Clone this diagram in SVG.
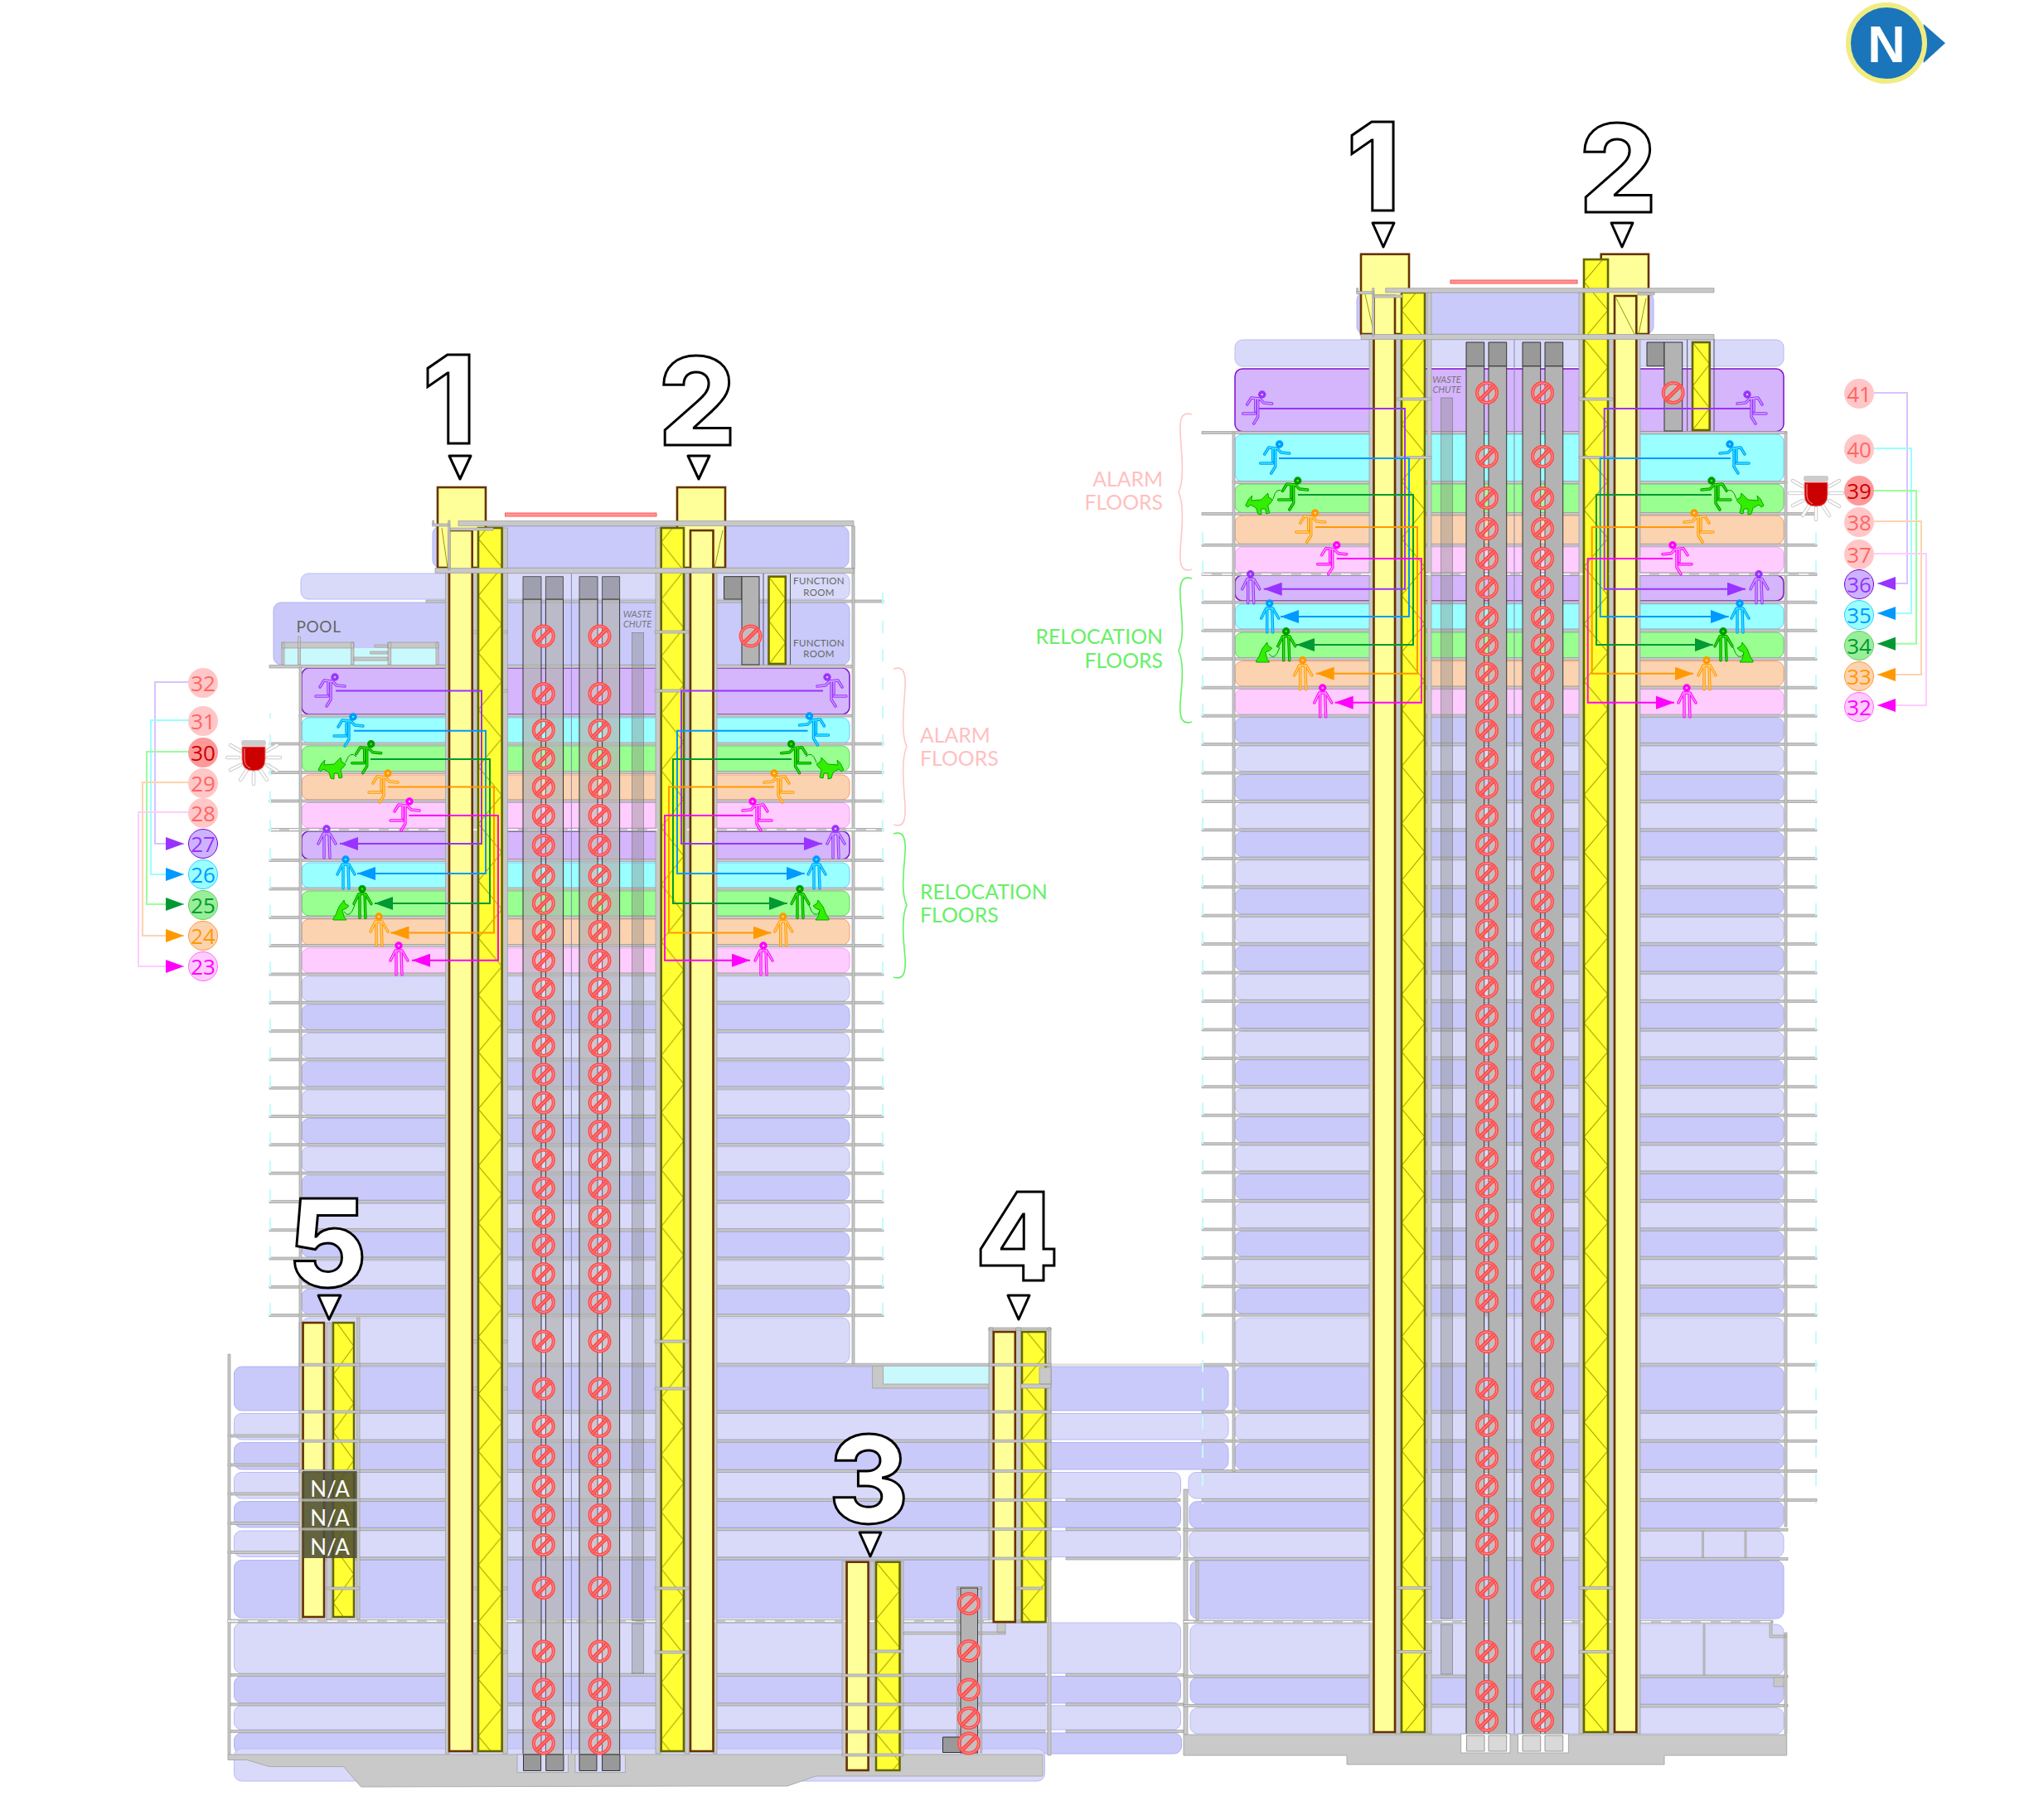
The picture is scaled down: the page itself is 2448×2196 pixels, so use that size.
<svg xmlns="http://www.w3.org/2000/svg" width="2448" height="2196" viewBox="0 0 2448 2196">
<style>
text{font-family:"Lato","Open Sans","Liberation Sans",sans-serif}
.d{fill:#c9caf9;stroke:#aeb0f4;stroke-width:1}
.l{fill:#d9daf9;stroke:#b8baf6;stroke-width:1}
.pu{fill:#d5b5fb;stroke:#7f0fd0;stroke-width:1.5}
.cy{fill:#99ffff;stroke:#66ccff;stroke-width:1}
.gr{fill:#99ff90;stroke:#66cc66;stroke-width:1}
.or{fill:#fcd3b0;stroke:#ff9966;stroke-width:1}
.pk{fill:#ffccff;stroke:#ff99ff;stroke-width:1}
.sl{fill:#c8c8c8;stroke:#999;stroke-width:.7}
.dash{fill:none;stroke:#fff;stroke-width:1.6;stroke-dasharray:12 12}
.pale{fill:#ffff99;stroke:#663300;stroke-width:2.6}
.cap{fill:#999;stroke:#333;stroke-width:1}
.capt{fill:#808088;fill-opacity:.65;stroke:#555;stroke-width:1}
.lift{fill:#b3b3b3;stroke:#333;stroke-width:1}
.liftt{fill:#b3b3b3;fill-opacity:.7;stroke:#333;stroke-width:1}
.chute{fill:#888;fill-opacity:.4;stroke:#777;stroke-width:.6}
.xl{fill:none;stroke:#999900;stroke-width:1}
.thin{fill:none;stroke:#555;stroke-width:1}
.thl{fill:none;stroke:#8888bb;stroke-width:1}
.big{font-family:"Inter","Liberation Sans",sans-serif;font-weight:800;font-size:147px;fill:#fff;stroke:#000;stroke-width:3;text-anchor:middle}
.tri{fill:#fff;stroke:#000;stroke-width:3;stroke-linejoin:round}
.badge{font-size:26px;text-anchor:middle;font-family:"Open Sans","Liberation Sans",sans-serif}
.fr{font-size:11.5px;fill:#666;text-anchor:middle;letter-spacing:.3px}
.wc{font-size:11px;fill:#777;text-anchor:middle;font-style:italic}
.al{font-size:24.8px;fill:#ffbfbf}
.re{font-size:24.8px;fill:#66f066}
.na{font-size:26px;fill:#fff;text-anchor:middle}
.c{fill:none;stroke-width:2}
.br{fill:none;stroke-width:1.6}
.fo{fill:none;stroke:currentColor;stroke-width:3.4;stroke-linecap:round;stroke-linejoin:round}
.fi{fill:none;stroke:var(--in,#fff);stroke-opacity:.85;stroke-width:1.3;stroke-linecap:round;stroke-linejoin:round}
.dog{fill:#33ee00;stroke:#00aa00;stroke-width:1;stroke-linejoin:round}
.ray{fill:none;stroke:#ccc;stroke-width:4.5;stroke-linecap:round}
.ray2{fill:none;stroke:#fff;stroke-width:2.5;stroke-linecap:round}
</style>
<defs>
<marker id="mp" markerUnits="userSpaceOnUse" markerWidth="22" markerHeight="16" refX="22" refY="8" orient="auto"><path d="M0,0L22,8L0,16Z" fill="#9933ff"/></marker>
<marker id="mc" markerUnits="userSpaceOnUse" markerWidth="22" markerHeight="16" refX="22" refY="8" orient="auto"><path d="M0,0L22,8L0,16Z" fill="#0099ff"/></marker>
<marker id="mg" markerUnits="userSpaceOnUse" markerWidth="22" markerHeight="16" refX="22" refY="8" orient="auto"><path d="M0,0L22,8L0,16Z" fill="#009933"/></marker>
<marker id="mo" markerUnits="userSpaceOnUse" markerWidth="22" markerHeight="16" refX="22" refY="8" orient="auto"><path d="M0,0L22,8L0,16Z" fill="#ff9900"/></marker>
<marker id="mm" markerUnits="userSpaceOnUse" markerWidth="22" markerHeight="16" refX="22" refY="8" orient="auto"><path d="M0,0L22,8L0,16Z" fill="#ff00ff"/></marker>
<pattern id="z1" patternUnits="userSpaceOnUse" width="28.6" height="68.8" patternTransform="translate(577,650)"><path d="M0,0L28.6,34.4L0,68.8" fill="none" stroke="#999900" stroke-width="1"/></pattern>
<pattern id="z2" patternUnits="userSpaceOnUse" width="27.3" height="68.8" patternTransform="translate(797.7,620)"><path d="M27.3,0L0,34.4L27.3,68.8" fill="none" stroke="#999900" stroke-width="1"/></pattern>
<pattern id="z3" patternUnits="userSpaceOnUse" width="28" height="68.8" patternTransform="translate(1691,340)"><path d="M28,0L0,34.4L28,68.8" fill="none" stroke="#999900" stroke-width="1"/></pattern>
<pattern id="z4" patternUnits="userSpaceOnUse" width="29" height="68.8" patternTransform="translate(1911,340)"><path d="M0,0L29,34.4L0,68.8" fill="none" stroke="#999900" stroke-width="1"/></pattern>
<pattern id="z5" patternUnits="userSpaceOnUse" width="25" height="68.8" patternTransform="translate(402,1590)"><path d="M0,0L25,34.4L0,68.8" fill="none" stroke="#999900" stroke-width="1"/></pattern>
<pattern id="z6" patternUnits="userSpaceOnUse" width="28.5" height="68.8" patternTransform="translate(1233,1600)"><path d="M0,0L28.5,34.4L0,68.8" fill="none" stroke="#999900" stroke-width="1"/></pattern>
<pattern id="z7" patternUnits="userSpaceOnUse" width="28.5" height="68.8" patternTransform="translate(1057,1885)"><path d="M0,0L28.5,34.4L0,68.8" fill="none" stroke="#999900" stroke-width="1"/></pattern>
<pattern id="z8" patternUnits="userSpaceOnUse" width="20.3" height="53" patternTransform="translate(927.5,696)"><path d="M0,0L20.3,26.5L0,53" fill="none" stroke="#999900" stroke-width="1"/></pattern>
<pattern id="z9" patternUnits="userSpaceOnUse" width="20.7" height="53" patternTransform="translate(2042,413)"><path d="M0,0L20.7,26.5L0,53" fill="none" stroke="#999900" stroke-width="1"/></pattern>
<pattern id="tkL" patternUnits="userSpaceOnUse" width="2" height="34.3" patternTransform="translate(0,1175.5)"><rect x="0" y="19.3" width="2" height="15" fill="#c4fbfb"/></pattern>
<pattern id="tkR" patternUnits="userSpaceOnUse" width="2" height="34.43" patternTransform="translate(0,863.7)"><rect x="0" y="19.43" width="2" height="15" fill="#c4fbfb"/></pattern>
<g id="no"><circle r="12" fill="#ffdddd" fill-opacity=".25" stroke="#ff4d4d" stroke-width="4"/><circle r="12" fill="none" stroke="#ff9999" stroke-width="1"/><path d="M-8.5,8.5L8.5,-8.5" stroke="#ff4d4d" stroke-width="5"/><path d="M-8.5,8.5L8.5,-8.5" stroke="#ff9999" stroke-width="1"/></g>
<g id="colL"><use href="#no" y="767.6"/><use href="#no" y="837"/><use href="#no" y="881"/><use href="#no" y="915"/><use href="#no" y="950"/><use href="#no" y="984"/><use href="#no" y="1020"/><use href="#no" y="1056.6"/><use href="#no" y="1090"/><use href="#no" y="1124"/><use href="#no" y="1159"/><use href="#no" y="1193"/><use href="#no" y="1227.4"/><use href="#no" y="1261.8"/><use href="#no" y="1296.2"/><use href="#no" y="1330.6"/><use href="#no" y="1365"/><use href="#no" y="1399.4"/><use href="#no" y="1433.8"/><use href="#no" y="1468.2"/><use href="#no" y="1502.6"/><use href="#no" y="1537"/><use href="#no" y="1571.4"/><use href="#no" y="1618.6"/><use href="#no" y="1675.7"/><use href="#no" y="1721"/><use href="#no" y="1757"/><use href="#no" y="1793.7"/><use href="#no" y="1828"/><use href="#no" y="1864"/><use href="#no" y="1916"/><use href="#no" y="1992.5"/><use href="#no" y="2038.6"/><use href="#no" y="2073"/><use href="#no" y="2103.5"/></g>
<g id="colR"><use href="#no" y="474"/><use href="#no" y="551"/><use href="#no" y="601"/><use href="#no" y="638"/><use href="#no" y="674"/><use href="#no" y="709"/><use href="#no" y="745"/><use href="#no" y="778"/><use href="#no" y="812.4"/><use href="#no" y="846.9"/><use href="#no" y="881.3"/><use href="#no" y="915.7"/><use href="#no" y="950.2"/><use href="#no" y="984.6"/><use href="#no" y="1019"/><use href="#no" y="1053.4"/><use href="#no" y="1087.9"/><use href="#no" y="1122.3"/><use href="#no" y="1156.7"/><use href="#no" y="1191.2"/><use href="#no" y="1225.6"/><use href="#no" y="1260"/><use href="#no" y="1294.4"/><use href="#no" y="1328.9"/><use href="#no" y="1363.3"/><use href="#no" y="1397.7"/><use href="#no" y="1432.1"/><use href="#no" y="1466.6"/><use href="#no" y="1501"/><use href="#no" y="1535.4"/><use href="#no" y="1569.9"/><use href="#no" y="1619"/><use href="#no" y="1676"/><use href="#no" y="1720"/><use href="#no" y="1759"/><use href="#no" y="1793"/><use href="#no" y="1829"/><use href="#no" y="1863"/><use href="#no" y="1916"/><use href="#no" y="1993"/><use href="#no" y="2041"/><use href="#no" y="2076"/></g>
<g id="run"><circle cx="0" cy="0" r="3" class="fo" style="fill:var(--in,#fff)"/><path class="fo" d="M-18,12L-13,4L-3,5L2,10L12,11M-8,5L-8,20M-23,23L-8,23M-5,5L-5,27L-10,35"/><path class="fi" d="M-18,12L-13,4L-3,5L2,10L12,11M-8,5L-8,20M-23,23L-8,23M-5,5L-5,27L-10,35"/></g>
<g id="walk"><circle cx="0" cy="0" r="3" class="fo" style="fill:var(--in,#fff)"/><path class="fo" d="M-10,18L-4,6L4,6L11,18M-3,6L-3,35M3,6L4,35"/><path class="fi" d="M-10,18L-4,6L4,6L11,18M-3,6L-3,35M3,6L4,35"/></g>
<path id="rdog" class="dog" d="M0,5L5,2L6,-3L10,1L14,5L26,6L25,0L29,4L33,12L30,14L27,11L20,15L18,22L14,23L14,16L9,16L8,22L4,21L6,12L3,9Z"/>
<path id="sdog" class="dog" d="M0,3L5,0L6,-4L9,0L12,4L16,14L19,18L19,20L3,20L6,16L8,8L3,6Z"/>
<g id="alarm"><path class="ray" d="M-28,-13L-16,-6M-32,2L-18,2M-28,17L-16,11M-16,29L-8,17M0,20L0,34M8,17L16,29M16,11L28,18M17,2L32,2M16,-6L28,-13"/><path class="ray2" d="M-28,-13L-16,-6M-32,2L-18,2M-28,17L-16,11M-16,29L-8,17M0,20L0,34M8,17L16,29M16,11L28,18M17,2L32,2M16,-6L28,-13"/><rect x="-15" y="-19" width="30" height="7" rx="3" fill="#ccc"/><path d="M-14,-11H14V4Q14,18 0,18Q-14,18 -14,4Z" fill="#cc0000" stroke="#e88" stroke-width="1"/><path d="M-11,-9V4Q-11,12 -4,15" fill="none" stroke="#ff9999" stroke-width="1"/></g>
</defs>

<g id="left-tower-floors">
<rect class="d" x="522" y="635" width="502" height="50" rx="9"/>
<rect class="l" x="363" y="692" width="662" height="31" rx="9"/>
<rect class="d" x="330" y="727" width="695" height="75" rx="9"/>
<rect class="pu" x="364" y="806" width="661" height="56" rx="9"/>
<rect class="cy" x="364" y="866" width="661" height="31" rx="9"/>
<rect class="gr" x="364" y="900" width="661" height="31" rx="9"/>
<rect class="or" x="364" y="935" width="661" height="30" rx="9"/>
<rect class="pk" x="364" y="968.5" width="661" height="30.5" rx="9"/>
<rect class="pu" x="364" y="1003" width="661" height="34" rx="9"/>
<rect class="cy" x="364" y="1041" width="661" height="30.5" rx="9"/>
<rect class="gr" x="364" y="1075" width="661" height="30" rx="9"/>
<rect class="or" x="364" y="1109" width="661" height="31" rx="9"/>
<rect class="pk" x="364" y="1144" width="661" height="30" rx="9"/>
<rect class="l" x="364" y="1178" width="661" height="30" rx="9"/>
<rect class="d" x="364" y="1212.3" width="661" height="30" rx="9"/>
<rect class="l" x="364" y="1246.6" width="661" height="30" rx="9"/>
<rect class="d" x="364" y="1280.9" width="661" height="30" rx="9"/>
<rect class="l" x="364" y="1315.2" width="661" height="30" rx="9"/>
<rect class="d" x="364" y="1349.5" width="661" height="30" rx="9"/>
<rect class="l" x="364" y="1383.8" width="661" height="30" rx="9"/>
<rect class="d" x="364" y="1418.1" width="661" height="30" rx="9"/>
<rect class="l" x="364" y="1452.4" width="661" height="30" rx="9"/>
<rect class="d" x="364" y="1486.7" width="661" height="30" rx="9"/>
<rect class="l" x="364" y="1521" width="661" height="30" rx="9"/>
<rect class="d" x="364" y="1555.3" width="661" height="30.5" rx="9"/>
<rect class="l" x="364" y="1590" width="661" height="55" rx="9"/>
<rect class="d" x="282.5" y="1649" width="1199.5" height="53" rx="9"/>
<rect class="l" x="282.5" y="1705.5" width="1199.5" height="31.5" rx="9"/>
<rect class="d" x="282.5" y="1740.6" width="1199.5" height="32.4" rx="9"/>
<rect class="l" x="282.5" y="1776.5" width="1142" height="31.5" rx="9"/>
<rect class="d" x="282.5" y="1811.6" width="1142" height="31.4" rx="9"/>
<rect class="l" x="282.5" y="1847" width="1142" height="31.5" rx="9"/>
<rect class="d" x="282.5" y="1882.6" width="985" height="69.4" rx="9"/>
<rect class="l" x="282.5" y="1958" width="1142" height="61" rx="9"/>
<rect class="d" x="282.5" y="2022.6" width="1142" height="32.4" rx="9"/>
<rect class="l" x="282.5" y="2058" width="1142" height="29" rx="9"/>
<rect class="d" x="282.5" y="2091" width="1143" height="25" rx="9"/>
<rect class="l" x="282.5" y="2110" width="978" height="39" rx="9"/>
</g>

<g id="right-tower-floors">
<rect class="d" x="1637" y="353" width="358" height="50" rx="9"/>
<rect class="l" x="1490" y="410" width="662" height="32" rx="9"/>
<rect class="pu" x="1490" y="445" width="662" height="75.7" rx="9"/>
<rect class="cy" x="1490" y="524" width="662" height="57" rx="9"/>
<rect class="gr" x="1490" y="584" width="662" height="34.7" rx="9"/>
<rect class="or" x="1490" y="622" width="662" height="34.7" rx="9"/>
<rect class="pk" x="1490" y="660" width="662" height="31" rx="9"/>
<rect class="pu" x="1490" y="694" width="662" height="31" rx="9"/>
<rect class="cy" x="1490" y="728.7" width="662" height="30.3" rx="9"/>
<rect class="gr" x="1490" y="763" width="662" height="31" rx="9"/>
<rect class="or" x="1490" y="797.7" width="662" height="30.3" rx="9"/>
<rect class="pk" x="1490" y="831.7" width="662" height="30.6" rx="9"/>
<rect class="d" x="1490" y="865.7" width="662" height="30.5" rx="9"/>
<rect class="l" x="1490" y="900.1" width="662" height="30.5" rx="9"/>
<rect class="d" x="1490" y="934.6" width="662" height="30.5" rx="9"/>
<rect class="l" x="1490" y="969" width="662" height="30.5" rx="9"/>
<rect class="d" x="1490" y="1003.4" width="662" height="30.5" rx="9"/>
<rect class="l" x="1490" y="1037.9" width="662" height="30.5" rx="9"/>
<rect class="d" x="1490" y="1072.3" width="662" height="30.5" rx="9"/>
<rect class="l" x="1490" y="1106.7" width="662" height="30.5" rx="9"/>
<rect class="d" x="1490" y="1141.1" width="662" height="30.5" rx="9"/>
<rect class="l" x="1490" y="1175.6" width="662" height="30.5" rx="9"/>
<rect class="d" x="1490" y="1210" width="662" height="30.5" rx="9"/>
<rect class="l" x="1490" y="1244.4" width="662" height="30.5" rx="9"/>
<rect class="d" x="1490" y="1278.9" width="662" height="30.5" rx="9"/>
<rect class="l" x="1490" y="1313.3" width="662" height="30.5" rx="9"/>
<rect class="d" x="1490" y="1347.7" width="662" height="30.5" rx="9"/>
<rect class="l" x="1490" y="1382.2" width="662" height="30.5" rx="9"/>
<rect class="d" x="1490" y="1416.6" width="662" height="30.5" rx="9"/>
<rect class="l" x="1490" y="1451" width="662" height="30.5" rx="9"/>
<rect class="d" x="1490" y="1485.4" width="662" height="30.5" rx="9"/>
<rect class="l" x="1490" y="1519.9" width="662" height="30.5" rx="9"/>
<rect class="d" x="1490" y="1554.3" width="662" height="30.5" rx="9"/>
<rect class="l" x="1490" y="1590" width="662" height="55" rx="9"/>
<rect class="d" x="1490" y="1649" width="662" height="53" rx="9"/>
<rect class="l" x="1490" y="1705.5" width="662" height="31.5" rx="9"/>
<rect class="d" x="1490" y="1740.6" width="662" height="32.4" rx="9"/>
<rect class="l" x="1434" y="1776.5" width="718" height="31.5" rx="9"/>
<rect class="d" x="1435" y="1811.7" width="717" height="32" rx="9"/>
<rect class="l" x="1435" y="1847" width="717" height="32" rx="9"/>
<rect class="d" x="1436" y="1883" width="716" height="70" rx="9"/>
<rect class="l" x="1436" y="1960" width="716" height="61" rx="9"/>
<rect class="d" x="1436" y="2024" width="716" height="32" rx="9"/>
<rect class="l" x="1436" y="2060.7" width="716" height="31.3" rx="9"/>
</g>

<g id="pool">
<rect x="342.7" y="782" width="184" height="20" fill="#c9f9fd"/>
<rect x="1065.6" y="1647" width="130" height="23" fill="#c9f9fd"/>
<path class="sl" d="M340,775H426.700V782H340ZM468,775H529V782H468ZM446.700,786H468V789H446.700ZM452,778H468V781H452ZM426.700,793H468V797H426.700ZM340,775H343V802H340ZM423.500,775H427V802H423.500ZM468,775H471.700V802H468ZM526,775H529V802H526ZM359.500,768H362.500V802H359.500Z"/>
<path class="sl" d="M1052.600,1647H1065.600V1670H1268V1675H1052.600ZM1254,1650H1268V1670H1254Z"/>
<text x="384.500" y="762.700" font-size="19" fill="#666" text-anchor="middle" letter-spacing=".6">POOL</text>
</g>

<g id="slabs-left">
<path class="sl" d="M514,724h552v3h-552ZM325,802.500h705v3.500h-705ZM361,862h669v3h-669ZM325,896h741v3h-741ZM325,930.500h741v3h-741ZM325,965h741v3h-741ZM325,999.500h741v3.500h-741ZM325,1036.500h741v3h-741ZM325,1071h741v3h-741ZM325,1105.500h741v3h-741ZM325,1139.500h741v3h-741ZM325,1174h741v3h-741ZM325,1208.300h741v3h-741ZM325,1242.600h741v3h-741ZM325,1276.900h741v3h-741ZM325,1311.200h741v3h-741ZM325,1345.500h741v3h-741ZM325,1379.800h741v3h-741ZM325,1414.100h741v3h-741ZM325,1448.400h741v3h-741ZM325,1482.700h741v3h-741ZM325,1517h741v3h-741ZM325,1551.300h741v3h-741ZM325,1585.600h741v3h-741ZM361,1645.200h907v3h-907ZM361,1702h907v3h-907ZM361,1737.200h907v3h-907ZM361,1773.500h907v3h-907ZM361,1808.500h907v3h-907ZM361,1843.500h907v3h-907ZM361,1879h907v3h-907ZM275,1731h88v3h-88ZM275,1766h88v3h-88ZM275,1801h88v3h-88ZM275,1836.500h88v3h-88ZM275,1871.500h88v3h-88ZM275,1954h985v4h-985ZM276,2019.500h985v3h-985ZM276,2055h985v3h-985ZM276,2087.500h985v3h-985ZM1286,1808.500h138v3h-138ZM1286,1843.500h138v3h-138ZM1286,1879h138v3h-138ZM1286,2019.500h142v3h-142ZM1286,2055h142v3h-142ZM1286,2087.500h142v3h-142Z"/>
<rect x="1268" y="1645.200" width="222" height="3" fill="#e2e2e2"/>
<path class="sl" d="M361,805h3v841h-3ZM1028,635h3v1011h-3ZM275,1634h3v483h-3ZM537.500,640h4.500v1476h-4.500ZM570.700,637h5.500v1479h-5.500ZM606.700,637h5.700v1479h-5.700ZM791,637h6v1479h-6ZM826,637h6v1479h-6ZM860.500,637h4.500v1479h-4.500ZM361,1596h4v358h-4ZM394,1596h6v358h-6ZM430.600,1590h3.400v364h-3.400ZM1193,1602h5v355h-5ZM1225.500,1602h6.500v355h-6.500ZM1264,1602h4v516h-4ZM1193,1602h75v3h-75ZM1016,1884h5v254h-5ZM1050,1884h5v254h-5ZM1087,1884h3v254h-3ZM1016,2135h74v3h-74ZM1154.600,1916h2v180h-2ZM1182.600,1916h2v199h-2ZM1154.600,1914.500h30v3h-30ZM1428,1797h5v296h-5ZM1203,1955h53v3h-53ZM1203,1958h10v12h-10ZM1090,1969h123v3h-123ZM1443,1883h3v72h-3Z"/>
<path class="dash" d="M275,1956H1260"/>
<path class="dash" d="M325,1001H1066"/>
<path class="sl" d="M570,761h42v3h-42ZM570,832h42v3h-42ZM570,1617h42v3h-42ZM570,1674h42v3h-42ZM570,1915h42v3h-42ZM570,1992h42v3h-42Z"/>
<rect x="325" y="860" width="2" height="727" fill="url(#tkL)"/>
<rect x="1064" y="700" width="2" height="887" fill="url(#tkL)"/>
</g>

<g id="slabs-right">
<path class="sl" d="M1450,520.500h706v3h-706ZM1487,580.500h669v3h-669ZM1450,618.500h742v3h-742ZM1450,656.200h742v3h-742ZM1450,691h742v3.500h-742ZM1450,725.200h742v3h-742ZM1450,759.200h742v3h-742ZM1450,793.500h742v3h-742ZM1450,828.200h742v3h-742ZM1450,862.200h742v3h-742ZM1450,896.600h742v3h-742ZM1450,931.100h742v3h-742ZM1450,965.500h742v3h-742ZM1450,999.900h742v3h-742ZM1450,1034.400h742v3h-742ZM1450,1068.800h742v3h-742ZM1450,1103.200h742v3h-742ZM1450,1137.600h742v3h-742ZM1450,1172.100h742v3h-742ZM1450,1206.500h742v3h-742ZM1450,1240.900h742v3h-742ZM1450,1275.400h742v3h-742ZM1450,1309.800h742v3h-742ZM1450,1344.200h742v3h-742ZM1450,1378.700h742v3h-742ZM1450,1413.100h742v3h-742ZM1450,1447.500h742v3h-742ZM1450,1481.900h742v3h-742ZM1450,1516.400h742v3h-742ZM1450,1550.800h742v3h-742ZM1450,1585.200h742v3h-742ZM1450,1645.200h742v3h-742ZM1450,1702h742v3h-742ZM1450,1737.200h742v3h-742ZM1450,1773.500h742v3h-742ZM1450,1808.500h742v3h-742ZM1428,1844.200h729v3h-729ZM1428,1879.500h729v3h-729ZM1428,1955h711v3.500h-711ZM1428,2021.200h729v3h-729ZM1428,2056.500h729v3h-729Z"/>
<path class="sl" d="M1487,522h3v1254h-3ZM2153,522h3v1320h-3ZM2153,1970h3v122h-3ZM2135,1957h3v16h17v3h-20ZM2140,2024h12v11h-12ZM1652,407h5v1685h-5ZM1684,353h6v1739h-6ZM1722,353h5v1739h-5ZM1905,353h5v1739h-5ZM1940,353h7v1739h-7ZM1975,353h4v1739h-4ZM2053.500,1847h2v32h-2ZM2105,1847h2v32h-2ZM2055,1960h2v61h-2Z"/>
<path class="thin" d="M2035.700,409V520M2068,409V520"/>
<path class="dash" d="M1428,1956.700H2139"/>
<path class="dash" d="M1450,692.700H2192"/>
<rect x="1450" y="625" width="2" height="1190" fill="url(#tkR)"/>
<rect x="2190" y="625" width="2" height="1190" fill="url(#tkR)"/>
</g>

<g id="core-left">
<path class="thl" d="M689.400,692V2116"/>
<rect class="chute" x="762.500" y="763.400" width="14.200" height="1192"/>
<rect class="chute" x="762.500" y="1959" width="14.200" height="60"/>
<rect class="liftt" x="631" y="723" width="22" height="1394"/>
<rect class="liftt" x="658.400" y="723" width="21.100" height="1394"/>
<rect class="liftt" x="699" y="723" width="22" height="1394"/>
<rect class="liftt" x="726.600" y="723" width="21" height="1394"/>
<path class="capt" d="M631,695.700h22V723h-22ZM658.400,695.700h21.100V723h-21.100ZM699,695.700h22V723h-22ZM726.600,695.700h21V723h-21Z"/>
<path class="cap" d="M873.500,695.700H895V723H873.500Z"/>
<rect class="lift" x="895" y="695.700" width="21" height="106.300"/>
<path class="thin" d="M921,692V802M953.500,692V802"/>
<text class="wc" x="769" y="745">WASTE</text><text class="wc" x="769" y="757">CHUTE</text>
<text class="fr" x="988" y="705">FUNCTION</text><text class="fr" x="988" y="718.500">ROOM</text>
<text class="fr" x="988" y="780">FUNCTION</text><text class="fr" x="988" y="793">ROOM</text>
</g>

<g id="core-right">
<path class="thl" d="M1827,409V2092"/>
<rect class="chute" x="1738.500" y="480" width="14.200" height="1473"/>
<rect class="chute" x="1738.500" y="1960" width="14.200" height="60"/>
<path class="lift" d="M1769,441.700h21.700V2094h-21.700ZM1796,441.700h21.700V2094h-21.700ZM1837,441.700h21.700V2094h-21.700ZM1864,441.700h21.700V2094h-21.700Z"/>
<path class="cap" d="M1769,413h21.700v28.700h-21.700ZM1796,413h21.700v28.700h-21.700ZM1837,413h21.700v28.700h-21.700ZM1864,413h21.700v28.700h-21.700ZM1987,413h21v28.700h-21Z"/>
<rect class="lift" x="2008" y="413" width="21.700" height="107"/>
<text class="wc" x="1745.500" y="462">WASTE</text><text class="wc" x="1745.500" y="474">CHUTE</text>
</g>

<g id="bases">
<path d="M275,2117H1258V2143H984.400L950,2155H850L435.600,2156L414.500,2131.600H325L298,2123.500H275Z" fill="#c9c9c9" stroke="#aaa"/>
<path d="M1428,2093H2155.700V2118H2008V2129H1625V2118H1428Z" fill="#c9c9c9" stroke="#aaa"/>
<rect x="1762.600" y="2092" width="59.400" height="23" fill="#fff" stroke="#aaa"/>
<rect x="1831.500" y="2092" width="60.900" height="23" fill="#fff" stroke="#aaa"/>
<path d="M1769.500,2094h21.500v19h-21.500ZM1796,2094h21.700v19h-21.700ZM1837,2094h21.700v19h-21.700ZM1864,2094h21.700v19h-21.700Z" fill="#d9d9d9" stroke="#999"/>
<rect x="624" y="2117" width="61.500" height="21.600" fill="#d9daf9" stroke="#aaa"/>
<rect x="694" y="2117" width="60.400" height="21.600" fill="#d9daf9" stroke="#aaa"/>
<path class="cap" d="M631.500,2117h21.100v19.500h-21.100ZM658.700,2117h21.300v19.500h-21.300ZM699,2117h21v19.500h-21ZM726.600,2117h21.400v19.500h-21.400Z"/>
<path class="cap" d="M1137.500,2096H1159V2114.500H1137.500Z"/>
<rect class="lift" x="1159" y="1916" width="20.600" height="199"/>
</g>

<g id="shaft-1-left">
<rect class="pale" x="528" y="588" width="58" height="97"/>
<path class="xl" d="M533,637L540,685M545,685L568,643"/>
<rect class="pale" x="542" y="640" width="27.700" height="1473"/>
<rect x="577" y="637" width="28.600" height="1476" fill="#ffff33"/><rect x="577" y="637" width="28.600" height="1476" fill="url(#z1)" stroke="#666600" stroke-width="2.600"/>
</g>
<g id="shaft-2-left">
<rect class="pale" x="817" y="588" width="58" height="97"/>
<path class="xl" d="M836,643L858,685M862,685L872,640"/>
<rect x="797.700" y="637" width="27.300" height="1476" fill="#ffff33"/><rect x="797.700" y="637" width="27.300" height="1476" fill="url(#z2)" stroke="#666600" stroke-width="2.600"/>
<rect class="pale" x="833" y="640" width="27.500" height="1473"/>
<rect x="927.500" y="695.700" width="20.300" height="105.300" fill="#ffff33"/><rect x="927.500" y="695.700" width="20.300" height="105.300" fill="url(#z8)" stroke="#666600" stroke-width="2.600"/>
<path class="sl" d="M790,761h41v3h-41ZM790,832h41v3h-41ZM790,1617h41v3h-41ZM790,1674h41v3h-41ZM790,1915h41v3h-41ZM790,1992h41v3h-41Z"/>
</g>
<g id="shaft-1-right">
<rect class="pale" x="1642" y="306.700" width="58" height="96.300"/>
<path class="xl" d="M1647,355L1658,403M1662,403L1682,360"/>
<rect class="pale" x="1657.500" y="357" width="25.500" height="1733"/>
<rect x="1691" y="353" width="28" height="1737" fill="#ffff33"/><rect x="1691" y="353" width="28" height="1737" fill="url(#z3)" stroke="#666600" stroke-width="2.600"/>
<path class="sl" d="M1685.700,480h41.300v3h-41.300ZM1685.700,550.500h41.300v3h-41.300ZM1685.700,1914.500h41.300v3h-41.300ZM1685.700,1991.500h41.300v3h-41.300Z"/>
</g>
<g id="shaft-2-right">
<rect class="pale" x="1931.700" y="306.700" width="57.300" height="96.300"/>
<rect x="1911" y="313" width="29" height="1777" fill="#ffff33"/><rect x="1911" y="313" width="29" height="1777" fill="url(#z4)" stroke="#666600" stroke-width="2.600"/>
<rect class="pale" x="1948" y="357" width="26.300" height="1733"/>
<path class="xl" d="M1950,360L1972,403M1977,403L1986,360"/>
<rect x="2042" y="413" width="20.700" height="106" fill="#ffff33"/><rect x="2042" y="413" width="20.700" height="106" fill="url(#z9)" stroke="#666600" stroke-width="2.600"/>
<path class="sl" d="M1905,480h41v3h-41ZM1905,550.500h41v3h-41ZM1905,1914.500h41v3h-41ZM1905,1991.500h41v3h-41Z"/>
</g>
<g id="roofs">
<path class="sl" d="M553,628.500h477v6h-477ZM525,685.500h505v6h-505ZM521.700,632h21v3h-21ZM521.700,628h2v4h-2ZM540.700,628h2.300v60h-2.300ZM543,637h52v3h-52ZM1028,635h3v51h-3Z"/>
<path class="sl" d="M1671.700,347.700h396.300v5.300h-396.300ZM1642,403.500h426v6h-426ZM1636.700,351.700h21v3h-21ZM1636.700,347.700h2v4h-2ZM1655.700,347.700h2.300v58h-2.300ZM1657,356h35v3h-35ZM1976,353h20v3h-20Z"/>
</g>
<g id="shaft-5">
<rect class="pale" x="365.600" y="1596" width="25.400" height="355" stroke-width="2"/>
<rect x="402" y="1596" width="25" height="355" fill="#ffff33"/><rect x="402" y="1596" width="25" height="355" fill="url(#z5)" stroke="#666600" stroke-width="2.500"/>
<path class="sl" d="M394,1915h40v3h-40ZM361,1645.200h73v3h-73ZM361,1702h73v3h-73ZM361,1737.200h73v3h-73ZM361,1773.500h73v3h-73Z"/>
<rect x="365" y="1775" width="65.600" height="105" fill="#4d4d33" fill-opacity=".88"/>
<rect x="361" y="1808.500" width="73" height="3" class="sl" opacity=".7"/><rect x="361" y="1843.500" width="73" height="3" class="sl" opacity=".7"/>
<text class="na" x="398" y="1806">N/A</text><text class="na" x="398" y="1841">N/A</text><text class="na" x="398" y="1876">N/A</text>
</g>
<g id="shaft-4">
<rect class="pale" x="1198.800" y="1607" width="26" height="350" stroke-width="2"/>
<rect x="1233" y="1607" width="28.500" height="350" fill="#ffff33"/><rect x="1233" y="1607" width="28.500" height="350" fill="url(#z6)" stroke="#666600" stroke-width="2.500"/>
<path class="sl" d="M1193,1645.200h75v3h-75ZM1254,1650h14v20h-14ZM1232,1670h36v5h-36ZM1227,1915h31v3h-31ZM1193,1702h75v3h-75ZM1193,1737.200h75v3h-75ZM1193,1773.500h75v3h-75ZM1193,1808.500h75v3h-75ZM1193,1843.500h75v3h-75ZM1193,1879h75v3h-75Z"/>
</g>
<g id="shaft-3">
<rect class="pale" x="1021.600" y="1884.700" width="26" height="251.300" stroke-width="2"/>
<rect x="1057" y="1884.700" width="28.500" height="251.300" fill="#ffff33"/><rect x="1057" y="1884.700" width="28.500" height="251.300" fill="url(#z7)" stroke="#666600" stroke-width="2.500"/>
<path class="sl" d="M1050,1991h40v3h-40ZM1016,2020h74v3h-74ZM1016,2055h74v3h-74ZM1016,2088h74v3h-74ZM1016,2116h74v3h-74Z"/>
</g>

<g id="no-entry">
<use href="#colL" x="655.800"/><use href="#colL" x="723.500"/>
<use href="#no" x="905.600" y="767.600"/>
<use href="#colR" x="1794"/><use href="#colR" x="1861"/>
<use href="#no" x="2018.700" y="474"/>
<use href="#no" x="1169" y="1935"/><use href="#no" x="1169" y="1992"/><use href="#no" x="1169" y="2038.600"/><use href="#no" x="1169" y="2073"/><use href="#no" x="1169" y="2103.500"/>
</g>

<g id="connectors">
<path class="c" stroke="#9933ff" marker-end="url(#mp)" d="M993,833.500H822V1018H992"/>
<path class="c" stroke="#0099ff" marker-end="url(#mc)" d="M974.500,881.700H817V1054H970.700"/>
<path class="c" stroke="#009933" marker-end="url(#mg)" d="M955,916H812V1090H949.700"/>
<path class="c" stroke="#ff9900" marker-end="url(#mo)" d="M934,949.400H807V1125.500H930.500"/>
<path class="c" stroke="#ff00ff" marker-end="url(#mm)" d="M908.700,984H802V1158.700H905"/>
<path class="c" stroke="#9933ff" marker-end="url(#mp)" d="M405,833.500H581V1018H410"/>
<path class="c" stroke="#0099ff" marker-end="url(#mc)" d="M427,881.700H586V1054H431"/>
<path class="c" stroke="#009933" marker-end="url(#mg)" d="M447,916H591V1090H452"/>
<path class="c" stroke="#ff9900" marker-end="url(#mo)" d="M468,949.400H596V1125.500H471.500"/>
<path class="c" stroke="#ff00ff" marker-end="url(#mm)" d="M493.300,984H601V1158.700H497"/>
<path class="c" stroke="#9933ff" marker-end="url(#mp)" d="M2113,493H1935.700V710.700H2106"/>
<path class="c" stroke="#0099ff" marker-end="url(#mc)" d="M2088,553H1930.700V744H2085.700"/>
<path class="c" stroke="#009933" marker-end="url(#mg)" d="M2065,597H1926V778H2066.700"/>
<path class="c" stroke="#ff9900" marker-end="url(#mo)" d="M2044,636H1920.700V812.700H2043"/>
<path class="c" stroke="#ff00ff" marker-end="url(#mm)" d="M2018,674H1915.700V847.700H2020"/>
<path class="c" stroke="#9933ff" marker-end="url(#mp)" d="M1518,493H1695V710.700H1524.700"/>
<path class="c" stroke="#0099ff" marker-end="url(#mc)" d="M1543,553H1700V744H1545"/>
<path class="c" stroke="#009933" marker-end="url(#mg)" d="M1566,597H1705V778H1564"/>
<path class="c" stroke="#ff9900" marker-end="url(#mo)" d="M1587,636H1710V812.700H1587.700"/>
<path class="c" stroke="#ff00ff" marker-end="url(#mm)" d="M1612.700,674H1715V847.700H1610.700"/>
<path class="c" stroke="#d9c2ff" marker-end="url(#mp)" d="M2261,474H2301V704H2265"/>
<path class="c" stroke="#99ffff" marker-end="url(#mc)" d="M2261,541H2306V740H2265"/>
<path class="c" stroke="#99ff99" marker-end="url(#mg)" d="M2261,592H2312V776.700H2265"/>
<path class="c" stroke="#fcd3b0" marker-end="url(#mo)" d="M2261,629H2318V814H2265"/>
<path class="c" stroke="#ffccff" marker-end="url(#mm)" d="M2261,668H2324V851H2265"/>
<path class="c" stroke="#d9c2ff" marker-end="url(#mp)" d="M227,823H187V1018H222"/>
<path class="c" stroke="#99ffff" marker-end="url(#mc)" d="M227,869H182V1055H222"/>
<path class="c" stroke="#99ff99" marker-end="url(#mg)" d="M227,907H177V1091H222"/>
<path class="c" stroke="#fcd3b0" marker-end="url(#mo)" d="M227,944H172V1129H222"/>
<path class="c" stroke="#ffccff" marker-end="url(#mm)" d="M227,980H167V1166H222"/>
</g>

<g id="figures-left" >
<use href="#run" transform="translate(404,817)" style="color:#9933ff;--in:#ddbbff"/>
<use href="#run" transform="translate(426,865)" style="color:#0099ff;--in:#33ffff"/>
<use href="#run" transform="translate(447.700,897.700)" style="color:#009900;--in:#33ff00"/>
<use href="#run" transform="translate(468,933)" style="color:#ff9900;--in:#ffdd99"/>
<use href="#run" transform="translate(494,967)" style="color:#ff00ff;--in:#ffbbff"/>
<use href="#walk" transform="translate(394,1000)" style="color:#9933ff;--in:#ddbbff"/>
<use href="#walk" transform="translate(417,1037)" style="color:#0099ff;--in:#33ffff"/>
<use href="#walk" transform="translate(437,1072.600)" style="color:#009900;--in:#33ff00"/>
<use href="#walk" transform="translate(457,1106)" style="color:#ff9900;--in:#ffdd99"/>
<use href="#walk" transform="translate(481,1141)" style="color:#ff00ff;--in:#ffbbff"/>
<use href="#rdog" transform="translate(417,917) scale(-1,1)"/>
<use href="#sdog" transform="translate(421,1090) scale(-1,1)"/>
<path fill="none" stroke="#009900" d="M430,913Q422,905 417,920M428,1092Q422,1110 415,1100"/>
</g>
<g id="figures-left-east">
<use href="#run" transform="translate(998,817) scale(-1,1)" style="color:#9933ff;--in:#ddbbff"/>
<use href="#run" transform="translate(976.500,864) scale(-1,1)" style="color:#0099ff;--in:#33ffff"/>
<use href="#run" transform="translate(954.600,897.700) scale(-1,1)" style="color:#009900;--in:#33ff00"/>
<use href="#run" transform="translate(934,933) scale(-1,1)" style="color:#ff9900;--in:#ffdd99"/>
<use href="#run" transform="translate(908,967) scale(-1,1)" style="color:#ff00ff;--in:#ffbbff"/>
<use href="#walk" transform="translate(1008,1000)" style="color:#9933ff;--in:#ddbbff"/>
<use href="#walk" transform="translate(985,1037)" style="color:#0099ff;--in:#33ffff"/>
<use href="#walk" transform="translate(965,1072.600)" style="color:#009900;--in:#33ff00"/>
<use href="#walk" transform="translate(944.700,1106)" style="color:#ff9900;--in:#ffdd99"/>
<use href="#walk" transform="translate(921,1141)" style="color:#ff00ff;--in:#ffbbff"/>
<use href="#rdog" transform="translate(985,917)"/>
<use href="#sdog" transform="translate(981,1090)"/>
<path fill="none" stroke="#009900" d="M972,913Q980,905 985,920M976,1092Q982,1110 989,1100"/>
</g>
<g id="figures-right-west">
<use href="#run" transform="translate(1522.700,476)" style="color:#9933ff;--in:#ddbbff"/>
<use href="#run" transform="translate(1543.700,536)" style="color:#0099ff;--in:#33ffff"/>
<use href="#run" transform="translate(1565.700,580)" style="color:#009900;--in:#33ff00"/>
<use href="#run" transform="translate(1586.700,619)" style="color:#ff9900;--in:#ffdd99"/>
<use href="#run" transform="translate(1612.700,657.700)" style="color:#ff00ff;--in:#ffbbff"/>
<use href="#walk" transform="translate(1508.700,692.700)" style="color:#9933ff;--in:#ddbbff"/>
<use href="#walk" transform="translate(1531.700,728)" style="color:#0099ff;--in:#33ffff"/>
<use href="#walk" transform="translate(1551.700,761.700)" style="color:#009900;--in:#33ff00"/>
<use href="#walk" transform="translate(1571.700,796.700)" style="color:#ff9900;--in:#ffdd99"/>
<use href="#walk" transform="translate(1595.700,830)" style="color:#ff00ff;--in:#ffbbff"/>
<use href="#rdog" transform="translate(1535.700,598) scale(-1,1)"/>
<use href="#sdog" transform="translate(1534.700,779) scale(-1,1)"/>
<path fill="none" stroke="#009900" d="M1548,594Q1540,586 1536,602M1544,781Q1538,799 1531,789"/>
</g>
<g id="figures-right-east">
<use href="#run" transform="translate(2108,476) scale(-1,1)" style="color:#9933ff;--in:#ddbbff"/>
<use href="#run" transform="translate(2087,536) scale(-1,1)" style="color:#0099ff;--in:#33ffff"/>
<use href="#run" transform="translate(2065,580) scale(-1,1)" style="color:#009900;--in:#33ff00"/>
<use href="#run" transform="translate(2044,619) scale(-1,1)" style="color:#ff9900;--in:#ffdd99"/>
<use href="#run" transform="translate(2018,657.700) scale(-1,1)" style="color:#ff00ff;--in:#ffbbff"/>
<use href="#walk" transform="translate(2122,692.700)" style="color:#9933ff;--in:#ddbbff"/>
<use href="#walk" transform="translate(2099,728)" style="color:#0099ff;--in:#33ffff"/>
<use href="#walk" transform="translate(2079,761.700)" style="color:#009900;--in:#33ff00"/>
<use href="#walk" transform="translate(2059,796.700)" style="color:#ff9900;--in:#ffdd99"/>
<use href="#walk" transform="translate(2035,830)" style="color:#ff00ff;--in:#ffbbff"/>
<use href="#rdog" transform="translate(2095,598)"/>
<use href="#sdog" transform="translate(2096,779)"/>
<path fill="none" stroke="#009900" d="M2082,594Q2090,586 2095,602M2091,781Q2097,799 2104,789"/>
</g>

<g id="alarm-left"><use href="#alarm" x="306" y="912"/></g>
<g id="alarm-right"><use href="#alarm" x="2191" y="593"/></g>

<g id="badges-left">
<circle cx="245" cy="824" r="18" fill="#ffc7c7"/><text class="badge" x="245" y="833.500" fill="#ff6666">32</text>
<circle cx="245" cy="870" r="18" fill="#ffc7c7"/><text class="badge" x="245" y="879.500" fill="#ff6666">31</text>
<circle cx="245" cy="908" r="18" fill="#ff9999"/><text class="badge" x="245" y="917.500" fill="#cc0000">30</text>
<circle cx="245" cy="945" r="18" fill="#ffc7c7"/><text class="badge" x="245" y="954.500" fill="#ff6666">29</text>
<circle cx="245" cy="981" r="18" fill="#ffc7c7"/><text class="badge" x="245" y="990.500" fill="#ff6666">28</text>
<circle cx="245" cy="1018" r="17.500" fill="#ccb3ff" stroke="#7f00cc"/><text class="badge" x="245" y="1027.500" fill="#9933ff">27</text>
<circle cx="245" cy="1055" r="17.500" fill="#99ffff" stroke="#33ccff"/><text class="badge" x="245" y="1064.500" fill="#0099ff">26</text>
<circle cx="245" cy="1092" r="17.500" fill="#99ee99" stroke="#66cc66"/><text class="badge" x="245" y="1101.500" fill="#009933">25</text>
<circle cx="245" cy="1129" r="17.500" fill="#fcd3b0" stroke="#ff9933"/><text class="badge" x="245" y="1138.500" fill="#ff9900">24</text>
<circle cx="245" cy="1166" r="17.500" fill="#ffccff" stroke="#ff66ff"/><text class="badge" x="245" y="1175.500" fill="#ff00ff">23</text>
</g>
<g id="badges-right">
<circle cx="2243" cy="475" r="18" fill="#ffc7c7"/><text class="badge" x="2243" y="484.500" fill="#ff6666">41</text>
<circle cx="2243" cy="542" r="18" fill="#ffc7c7"/><text class="badge" x="2243" y="551.500" fill="#ff6666">40</text>
<circle cx="2243" cy="592" r="18" fill="#ff9999"/><text class="badge" x="2243" y="601.500" fill="#cc0000">39</text>
<circle cx="2243" cy="630" r="18" fill="#ffc7c7"/><text class="badge" x="2243" y="639.500" fill="#ff6666">38</text>
<circle cx="2243" cy="669" r="18" fill="#ffc7c7"/><text class="badge" x="2243" y="678.500" fill="#ff6666">37</text>
<circle cx="2243" cy="705" r="17.500" fill="#ccb3ff" stroke="#7f00cc"/><text class="badge" x="2243" y="714.500" fill="#9933ff">36</text>
<circle cx="2243" cy="742" r="17.500" fill="#99ffff" stroke="#33ccff"/><text class="badge" x="2243" y="751.500" fill="#0099ff">35</text>
<circle cx="2243" cy="779" r="17.500" fill="#99ee99" stroke="#66cc66"/><text class="badge" x="2243" y="788.500" fill="#009933">34</text>
<circle cx="2243" cy="816" r="17.500" fill="#fcd3b0" stroke="#ff9933"/><text class="badge" x="2243" y="825.500" fill="#ff9900">33</text>
<circle cx="2243" cy="853" r="17.500" fill="#ffccff" stroke="#ff66ff"/><text class="badge" x="2243" y="862.500" fill="#ff00ff">32</text>
</g>

<g id="braces">
<path class="br" stroke="#ffc7c7" d="M1078,807C1090,803 1093,812 1092,830C1090,860 1087,885 1094,901C1087,917 1090,945 1092,972C1093,990 1090,999 1078,995"/>
<path class="br" stroke="#66f066" d="M1078,1006C1090,1002 1093,1011 1092,1029C1090,1055 1087,1077 1094,1092C1087,1107 1090,1133 1092,1156C1093,1174 1090,1183 1078,1179"/>
<path class="br" stroke="#ffc7c7" d="M1438,500C1426,496 1423,505 1424,523C1426,553 1429,578 1422,594C1429,610 1426,637 1424,664C1423,682 1426,691 1438,687"/>
<path class="br" stroke="#66f066" d="M1438,698C1426,694 1423,703 1424,721C1426,747 1429,769 1422,785C1429,800 1426,825 1424,848C1423,866 1426,875 1438,871"/>
</g>
<g id="zone-labels">
<text class="al" x="1110" y="896">ALARM</text><text class="al" x="1110" y="924">FLOORS</text>
<text class="re" x="1110" y="1085">RELOCATION</text><text class="re" x="1110" y="1113">FLOORS</text>
<text class="al" x="1403" y="587" text-anchor="end">ALARM</text><text class="al" x="1403" y="615" text-anchor="end">FLOORS</text>
<text class="re" x="1403" y="777" text-anchor="end">RELOCATION</text><text class="re" x="1403" y="806" text-anchor="end">FLOORS</text>
</g>

<g id="lobby-markers">
<g id="marker-1-left"><text class="big" x="542" y="535">1</text><path class="tri" d="M542,550H568L555,578Z"/></g>
<g id="marker-2-left"><text class="big" x="841" y="537">2</text><path class="tri" d="M830,550H856L843,578Z"/></g>
<g id="marker-1-right"><text class="big" x="1657" y="254">1</text><path class="tri" d="M1656,269H1682L1669,298Z"/></g>
<g id="marker-2-right"><text class="big" x="1952" y="256">2</text><path class="tri" d="M1944,269H1970L1957,298Z"/></g>
<g id="marker-5"><text class="big" x="395" y="1553">5</text><path class="tri" d="M384,1563H411L397,1592Z"/></g>
<g id="marker-4"><text class="big" x="1227" y="1545">4</text><path class="tri" d="M1216,1563H1242L1229,1592Z"/></g>
<g id="marker-3"><text class="big" x="1048" y="1838">3</text><path class="tri" d="M1037,1849H1063L1050,1878Z"/></g>
</g>

<g id="north">
<path d="M2320.700,29L2347,52L2320.700,76Z" fill="#1a75bb"/>
<circle cx="2276" cy="52" r="46" fill="#1a75bb" stroke="#f0ec82" stroke-width="6"/>
<text x="2276" y="75" font-size="63" font-weight="700" fill="#fff" text-anchor="middle" style="font-family:'Liberation Sans',sans-serif">N</text>
</g>
<rect x="609.500" y="619" width="182.500" height="4" fill="#ff9999" stroke="#ff5555" stroke-width="1"/>
<rect x="1750" y="338" width="153" height="4" fill="#ff9999" stroke="#ff5555" stroke-width="1"/>
</svg>
